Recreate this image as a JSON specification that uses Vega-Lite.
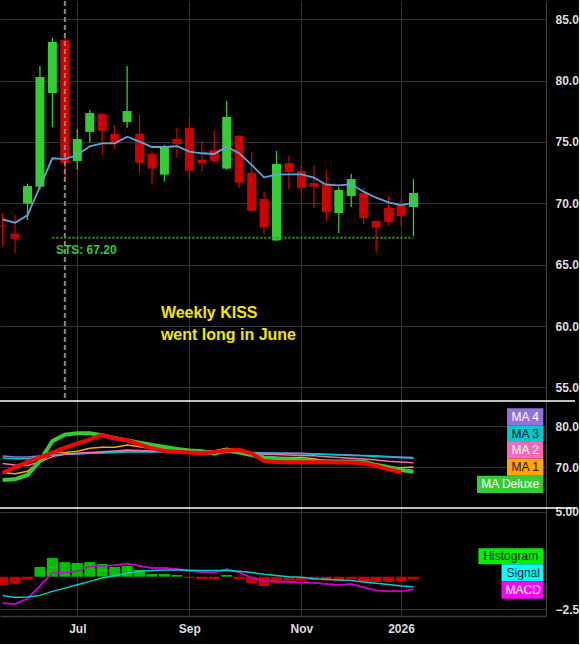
{
  "$schema": "https://vega.github.io/schema/vega-lite/v6.json",
  "background": "#000000",
  "padding": {"left": -6, "top": 0, "right": 0, "bottom": 10},
  "bounds": "flush",
  "spacing": 0,
  "config": {
    "view": {"stroke": null},
    "scale": {"continuousPadding": 0},
    "axis": {"labelFont": "Liberation Sans", "labelFontSize": 12, "labelFontWeight": "bold", "labelColor": "#dddddd", "gridColor": "#333333", "gridWidth": 1, "domainColor": "#444444", "ticks": false, "labelOverlap": false, "labelBound": false},
    "text": {"font": "Liberation Sans"}
  },
  "datasets": {
    "candles": [
      {"date": "2025-05-19", "open": 68.2, "high": 69.2, "low": 66.5, "close": 68.1, "ma": 68.7},
      {"date": "2025-05-26", "open": 67.53, "high": 69.05, "low": 65.98, "close": 67.12, "ma": 68.42},
      {"date": "2025-06-02", "open": 69.97, "high": 71.6, "low": 68.64, "close": 71.41, "ma": 69.02},
      {"date": "2025-06-09", "open": 71.36, "high": 81.2, "low": 71.14, "close": 80.3, "ma": 71.36},
      {"date": "2025-06-16", "open": 78.99, "high": 83.48, "low": 76.22, "close": 83.15, "ma": 73.67},
      {"date": "2025-06-23", "open": 83.32, "high": 83.64, "low": 71.96, "close": 73.29, "ma": 73.61},
      {"date": "2025-06-30", "open": 73.45, "high": 76.06, "low": 72.72, "close": 75.24, "ma": 73.94},
      {"date": "2025-07-07", "open": 75.82, "high": 77.61, "low": 74.95, "close": 77.36, "ma": 74.65},
      {"date": "2025-07-14", "open": 77.28, "high": 77.36, "low": 73.97, "close": 75.92, "ma": 74.89},
      {"date": "2025-07-21", "open": 75.65, "high": 76.39, "low": 74.43, "close": 74.86, "ma": 74.89},
      {"date": "2025-07-28", "open": 76.63, "high": 81.2, "low": 76.17, "close": 77.53, "ma": 75.43},
      {"date": "2025-08-04", "open": 75.65, "high": 77.2, "low": 72.42, "close": 73.29, "ma": 75.03},
      {"date": "2025-08-11", "open": 74.02, "high": 74.27, "low": 71.52, "close": 72.83, "ma": 74.59},
      {"date": "2025-08-18", "open": 72.34, "high": 74.76, "low": 71.77, "close": 74.67, "ma": 74.59},
      {"date": "2025-08-25", "open": 75.24, "high": 76.14, "low": 73.8, "close": 74.84, "ma": 74.65},
      {"date": "2025-09-01", "open": 76.14, "high": 77.04, "low": 71.93, "close": 72.66, "ma": 74.21},
      {"date": "2025-09-08", "open": 73.53, "high": 75.08, "low": 72.58, "close": 73.29, "ma": 74.08},
      {"date": "2025-09-15", "open": 74.35, "high": 75.9, "low": 73.32, "close": 73.45, "ma": 74.02},
      {"date": "2025-09-22", "open": 72.83, "high": 78.34, "low": 72.74, "close": 77.04, "ma": 74.62},
      {"date": "2025-09-29", "open": 75.49, "high": 75.57, "low": 71.28, "close": 71.68, "ma": 74.08},
      {"date": "2025-10-06", "open": 72.5, "high": 74.18, "low": 69.32, "close": 69.4, "ma": 73.13},
      {"date": "2025-10-13", "open": 70.35, "high": 70.92, "low": 67.47, "close": 68.02, "ma": 72.12},
      {"date": "2025-10-20", "open": 66.98, "high": 74.27, "low": 66.93, "close": 73.21, "ma": 72.34},
      {"date": "2025-10-27", "open": 73.29, "high": 73.86, "low": 71.11, "close": 72.55, "ma": 72.36},
      {"date": "2025-11-03", "open": 72.63, "high": 73.29, "low": 70.1, "close": 71.24, "ma": 72.36},
      {"date": "2025-11-10", "open": 71.66, "high": 73.13, "low": 69.65, "close": 71.36, "ma": 72.09},
      {"date": "2025-11-17", "open": 71.63, "high": 72.72, "low": 68.56, "close": 69.29, "ma": 71.52},
      {"date": "2025-11-24", "open": 69.21, "high": 71.33, "low": 67.58, "close": 71.09, "ma": 71.47},
      {"date": "2025-12-01", "open": 70.6, "high": 72.39, "low": 69.7, "close": 71.98, "ma": 71.55},
      {"date": "2025-12-08", "open": 70.84, "high": 71.24, "low": 68.32, "close": 68.8, "ma": 70.95},
      {"date": "2025-12-15", "open": 68.56, "high": 68.62, "low": 65.98, "close": 68.02, "ma": 70.46},
      {"date": "2025-12-22", "open": 69.62, "high": 70.6, "low": 68.15, "close": 68.48, "ma": 70.08},
      {"date": "2025-12-29", "open": 69.86, "high": 70.35, "low": 68.15, "close": 68.97, "ma": 69.86},
      {"date": "2026-01-05", "open": 69.7, "high": 71.98, "low": 67.34, "close": 70.84, "ma": 70.05}
    ],
    "mas": [
      {"date": "2025-05-19", "deluxe": 66.9, "red": 68.7, "ma1": 68.7, "ma2": 70.9, "ma3": 72.28, "ma4": 72.76},
      {"date": "2025-05-26", "deluxe": 67.07, "red": 70.0, "ma1": 68.42, "ma2": 70.57, "ma3": 72.1, "ma4": 72.5},
      {"date": "2025-06-02", "deluxe": 68.13, "red": 71.3, "ma1": 69.02, "ma2": 70.45, "ma3": 72.1, "ma4": 72.5},
      {"date": "2025-06-09", "deluxe": 71.54, "red": 72.36, "ma1": 71.36, "ma2": 71.3, "ma3": 72.5, "ma4": 72.76},
      {"date": "2025-06-16", "deluxe": 76.42, "red": 73.58, "ma1": 73.67, "ma2": 72.6, "ma3": 72.93, "ma4": 73.0},
      {"date": "2025-06-23", "deluxe": 77.97, "red": 74.8, "ma1": 73.61, "ma2": 73.2, "ma3": 73.17, "ma4": 73.17},
      {"date": "2025-06-30", "deluxe": 78.29, "red": 75.85, "ma1": 73.94, "ma2": 73.4, "ma3": 73.3, "ma4": 73.33},
      {"date": "2025-07-07", "deluxe": 78.29, "red": 76.83, "ma1": 74.65, "ma2": 73.6, "ma3": 73.4, "ma4": 73.45},
      {"date": "2025-07-14", "deluxe": 77.8, "red": 77.89, "ma1": 74.89, "ma2": 73.8, "ma3": 73.5, "ma4": 73.58},
      {"date": "2025-07-21", "deluxe": 77.15, "red": 77.07, "ma1": 74.89, "ma2": 74.0, "ma3": 73.6, "ma4": 73.7},
      {"date": "2025-07-28", "deluxe": 76.59, "red": 76.59, "ma1": 75.43, "ma2": 74.2, "ma3": 73.74, "ma4": 73.9},
      {"date": "2025-08-04", "deluxe": 76.02, "red": 75.6, "ma1": 75.03, "ma2": 74.1, "ma3": 73.75, "ma4": 73.9},
      {"date": "2025-08-11", "deluxe": 75.45, "red": 74.63, "ma1": 74.59, "ma2": 74.0, "ma3": 73.75, "ma4": 73.9},
      {"date": "2025-08-18", "deluxe": 74.96, "red": 73.98, "ma1": 74.59, "ma2": 74.0, "ma3": 73.75, "ma4": 73.85},
      {"date": "2025-08-25", "deluxe": 74.47, "red": 73.82, "ma1": 74.65, "ma2": 73.9, "ma3": 73.7, "ma4": 73.8},
      {"date": "2025-09-01", "deluxe": 74.07, "red": 73.58, "ma1": 74.21, "ma2": 73.8, "ma3": 73.7, "ma4": 73.8},
      {"date": "2025-09-08", "deluxe": 73.9, "red": 73.41, "ma1": 74.08, "ma2": 73.7, "ma3": 73.65, "ma4": 73.75},
      {"date": "2025-09-15", "deluxe": 73.3, "red": 73.74, "ma1": 74.02, "ma2": 73.6, "ma3": 73.6, "ma4": 73.7},
      {"date": "2025-09-22", "deluxe": 74.15, "red": 74.07, "ma1": 74.62, "ma2": 73.7, "ma3": 73.65, "ma4": 73.75},
      {"date": "2025-09-29", "deluxe": 73.58, "red": 74.23, "ma1": 74.08, "ma2": 73.6, "ma3": 73.6, "ma4": 73.7},
      {"date": "2025-10-06", "deluxe": 73.0, "red": 73.41, "ma1": 73.13, "ma2": 73.4, "ma3": 73.5, "ma4": 73.6},
      {"date": "2025-10-13", "deluxe": 72.4, "red": 71.5, "ma1": 72.12, "ma2": 73.2, "ma3": 73.4, "ma4": 73.55},
      {"date": "2025-10-20", "deluxe": 72.2, "red": 71.3, "ma1": 72.34, "ma2": 73.1, "ma3": 73.4, "ma4": 73.5},
      {"date": "2025-10-27", "deluxe": 71.95, "red": 71.2, "ma1": 72.36, "ma2": 73.0, "ma3": 73.35, "ma4": 73.5},
      {"date": "2025-11-03", "deluxe": 71.7, "red": 71.2, "ma1": 72.36, "ma2": 72.9, "ma3": 73.3, "ma4": 73.4},
      {"date": "2025-11-10", "deluxe": 71.5, "red": 71.2, "ma1": 72.09, "ma2": 72.8, "ma3": 73.2, "ma4": 73.3},
      {"date": "2025-11-17", "deluxe": 71.45, "red": 71.2, "ma1": 71.52, "ma2": 72.6, "ma3": 73.1, "ma4": 73.2},
      {"date": "2025-11-24", "deluxe": 71.4, "red": 71.15, "ma1": 71.47, "ma2": 72.4, "ma3": 73.0, "ma4": 73.1},
      {"date": "2025-12-01", "deluxe": 71.4, "red": 71.15, "ma1": 71.55, "ma2": 72.2, "ma3": 72.9, "ma4": 73.0},
      {"date": "2025-12-08", "deluxe": 71.35, "red": 71.0, "ma1": 70.95, "ma2": 72.0, "ma3": 72.8, "ma4": 72.9},
      {"date": "2025-12-15", "deluxe": 70.6, "red": 70.3, "ma1": 70.46, "ma2": 71.8, "ma3": 72.6, "ma4": 72.8},
      {"date": "2025-12-22", "deluxe": 70.0, "red": 69.5, "ma1": 70.08, "ma2": 71.5, "ma3": 72.5, "ma4": 72.65},
      {"date": "2025-12-29", "deluxe": 69.35, "red": 68.8, "ma1": 69.86, "ma2": 71.3, "ma3": 72.35, "ma4": 72.5},
      {"date": "2026-01-05", "deluxe": 68.9, "red": null, "ma1": 70.05, "ma2": 71.1, "ma3": 72.2, "ma4": 72.4}
    ],
    "macd": [
      {"date": "2025-05-19", "hist": -0.64, "macd": -2.05, "signal": -1.45},
      {"date": "2025-05-26", "hist": -0.54, "macd": -2.1, "signal": -1.6},
      {"date": "2025-06-02", "hist": -0.18, "macd": -1.69, "signal": -1.57},
      {"date": "2025-06-09", "hist": 0.75, "macd": -0.71, "signal": -1.44},
      {"date": "2025-06-16", "hist": 1.44, "macd": 0.29, "signal": -1.13},
      {"date": "2025-06-23", "hist": 1.13, "macd": 0.32, "signal": -0.88},
      {"date": "2025-06-30", "hist": 1.06, "macd": 0.42, "signal": -0.62},
      {"date": "2025-07-07", "hist": 1.13, "macd": 0.78, "signal": -0.36},
      {"date": "2025-07-14", "hist": 0.98, "macd": 0.83, "signal": -0.1},
      {"date": "2025-07-21", "hist": 0.75, "macd": 0.88, "signal": 0.08},
      {"date": "2025-07-28", "hist": 0.83, "macd": 1.01, "signal": 0.26},
      {"date": "2025-08-04", "hist": 0.52, "macd": 0.83, "signal": 0.42},
      {"date": "2025-08-11", "hist": 0.21, "macd": 0.67, "signal": 0.47},
      {"date": "2025-08-18", "hist": 0.21, "macd": 0.67, "signal": 0.52},
      {"date": "2025-08-25", "hist": 0.13, "macd": 0.6, "signal": 0.52},
      {"date": "2025-09-01", "hist": -0.1, "macd": 0.44, "signal": 0.5},
      {"date": "2025-09-08", "hist": -0.18, "macd": 0.37, "signal": 0.47},
      {"date": "2025-09-15", "hist": -0.18, "macd": 0.32, "signal": 0.47},
      {"date": "2025-09-22", "hist": 0.13, "macd": 0.57, "signal": 0.47},
      {"date": "2025-09-29", "hist": -0.18, "macd": 0.32, "signal": 0.42},
      {"date": "2025-10-06", "hist": -0.49, "macd": -0.08, "signal": 0.32},
      {"date": "2025-10-13", "hist": -0.72, "macd": -0.33, "signal": 0.19},
      {"date": "2025-10-20", "hist": -0.46, "macd": -0.36, "signal": 0.1},
      {"date": "2025-10-27", "hist": -0.31, "macd": -0.39, "signal": 0.0},
      {"date": "2025-11-03", "hist": -0.31, "macd": -0.46, "signal": -0.05},
      {"date": "2025-11-10", "hist": -0.25, "macd": -0.46, "signal": -0.15},
      {"date": "2025-11-17", "hist": -0.3, "macd": -0.57, "signal": -0.2},
      {"date": "2025-11-24", "hist": -0.35, "macd": -0.64, "signal": -0.25},
      {"date": "2025-12-01", "hist": -0.2, "macd": -0.57, "signal": -0.3},
      {"date": "2025-12-08", "hist": -0.4, "macd": -0.82, "signal": -0.4},
      {"date": "2025-12-15", "hist": -0.4, "macd": -1.07, "signal": -0.5},
      {"date": "2025-12-22", "hist": -0.4, "macd": -1.13, "signal": -0.6},
      {"date": "2025-12-29", "hist": -0.35, "macd": -1.13, "signal": -0.72},
      {"date": "2026-01-05", "hist": -0.2, "macd": -0.97, "signal": -0.78}
    ]
  },
  "vconcat": [
    {
      "width": 546,
      "height": 400,
      "layer": [
        {
          "data": {"name": "candles"},
          "mark": {"type": "rule", "strokeWidth": 1.3, "clip": true},
          "encoding": {
            "x": {"field": "date", "type": "temporal", "title": null,
              "scale": {"type": "utc", "nice": false, "padding": 0, "domain": [{"year": 2025, "month": 5, "date": 17, "hours": 13, "utc": true}, {"year": 2026, "month": 3, "date": 20, "hours": 12, "utc": true}]},
              "axis": {"orient": "bottom", "values": [{"year": 2025, "month": 6, "date": 30, "utc": true}, {"year": 2025, "month": 9, "date": 1, "utc": true}, {"year": 2025, "month": 11, "date": 3, "utc": true}, {"year": 2025, "month": 12, "date": 29, "utc": true}], "labels": false, "domain": false, "grid": true}},
            "y": {"field": "low", "type": "quantitative", "title": null,
              "scale": {"domain": [53.89, 86.49], "nice": false, "zero": false},
              "axis": {"orient": "right", "values": [55, 57.5, 60, 62.5, 65, 67.5, 70, 72.5, 75, 77.5, 80, 82.5, 85], "format": ".1f", "grid": true, "domain": true, "labelPadding": 9}},
            "y2": {"field": "high"},
            "color": {"condition": {"test": "datum.close >= datum.open", "value": "#33cc33"}, "value": "#cc0000"}
          }
        },
        {
          "data": {"name": "candles"},
          "mark": {"type": "bar", "size": 9, "clip": true},
          "encoding": {
            "x": {"field": "date", "type": "temporal", "title": null},
            "y": {"field": "open", "type": "quantitative", "title": null},
            "y2": {"field": "close"},
            "color": {"condition": {"test": "datum.close >= datum.open", "value": "#33cc33"}, "value": "#cc0000"}
          }
        },
        {
          "data": {"name": "candles"},
          "mark": {"type": "line", "color": "#5aa5e0", "strokeWidth": 1.8, "clip": true},
          "encoding": {
            "x": {"field": "date", "type": "temporal", "title": null},
            "y": {"field": "ma", "type": "quantitative", "title": null}
          }
        },
        {
          "data": {"values": [{}]},
          "mark": {"type": "rule", "color": "#888888", "strokeWidth": 2, "strokeDash": [5, 3]},
          "encoding": {"x": {"datum": {"year": 2025, "month": 6, "date": 23, "utc": true}}}
        },
        {
          "data": {"values": [{}]},
          "mark": {"type": "rule", "color": "#2ca02c", "strokeWidth": 2, "strokeDash": [2, 2]},
          "encoding": {
            "x": {"datum": {"year": 2025, "month": 6, "date": 16, "utc": true}},
            "x2": {"datum": {"year": 2026, "month": 1, "date": 5, "utc": true}},
            "y": {"datum": 67.2}
          }
        },
        {
          "data": {"values": [{"label": "STS: 67.20"}]},
          "mark": {"type": "text", "color": "#33cc33", "fontSize": 12, "fontWeight": "bold", "align": "left", "baseline": "middle"},
          "encoding": {
            "x": {"datum": {"year": 2025, "month": 6, "date": 18, "utc": true}},
            "y": {"datum": 66.2},
            "text": {"field": "label"}
          }
        },
        {
          "data": {"values": [{}]},
          "mark": {"type": "text", "text": ["Weekly KISS", "went long in June"], "color": "#f5e600", "fontSize": 16, "fontWeight": "bold", "align": "left", "baseline": "alphabetic", "lineHeight": 22.6},
          "encoding": {
            "x": {"datum": {"year": 2025, "month": 8, "date": 16, "utc": true}},
            "y": {"datum": 60.68}
          }
        }
      ]
    },
    {
      "width": 546,
      "height": 107,
      "layer": [
        {
          "data": {"name": "mas"},
          "mark": {"type": "line", "color": "#9370db", "strokeWidth": 1.5},
          "encoding": {
            "x": {"field": "date", "type": "temporal", "title": null,
              "scale": {"type": "utc", "nice": false, "padding": 0, "domain": [{"year": 2025, "month": 5, "date": 17, "hours": 13, "utc": true}, {"year": 2026, "month": 3, "date": 20, "hours": 12, "utc": true}]},
              "axis": {"orient": "bottom", "values": [{"year": 2025, "month": 6, "date": 30, "utc": true}, {"year": 2025, "month": 9, "date": 1, "utc": true}, {"year": 2025, "month": 11, "date": 3, "utc": true}, {"year": 2025, "month": 12, "date": 29, "utc": true}], "labels": false, "domain": false, "grid": true}},
            "y": {"field": "ma4", "type": "quantitative", "title": null,
              "scale": {"domain": [60.07, 86.17], "nice": false, "zero": false},
              "axis": {"orient": "right", "values": [70, 80], "format": ".1f", "grid": true, "domain": true, "labelPadding": 9}}
          }
        },
        {
          "data": {"name": "mas"},
          "mark": {"type": "line", "color": "#00c8cc", "strokeWidth": 1.5},
          "encoding": {"x": {"field": "date", "type": "temporal", "title": null}, "y": {"field": "ma3", "type": "quantitative", "title": null}}
        },
        {
          "data": {"name": "mas"},
          "mark": {"type": "line", "color": "#ff69b4", "strokeWidth": 1.5},
          "encoding": {"x": {"field": "date", "type": "temporal", "title": null}, "y": {"field": "ma2", "type": "quantitative", "title": null}}
        },
        {
          "data": {"name": "mas"},
          "mark": {"type": "line", "color": "#ffa500", "strokeWidth": 1.5},
          "encoding": {"x": {"field": "date", "type": "temporal", "title": null}, "y": {"field": "ma1", "type": "quantitative", "title": null}}
        },
        {
          "data": {"name": "mas"},
          "mark": {"type": "line", "color": "#33cc33", "strokeWidth": 4},
          "encoding": {"x": {"field": "date", "type": "temporal", "title": null}, "y": {"field": "deluxe", "type": "quantitative", "title": null}}
        },
        {
          "data": {"name": "mas"},
          "mark": {"type": "line", "color": "#ff0000", "strokeWidth": 4},
          "encoding": {"x": {"field": "date", "type": "temporal", "title": null}, "y": {"field": "red", "type": "quantitative", "title": null}}
        },
        {
          "data": {"values": [{}]},
          "mark": {"type": "rule", "color": "#ffffff", "strokeWidth": 1.5},
          "encoding": {
            "x": {"datum": {"year": 2025, "month": 5, "date": 17, "hours": 13, "utc": true}},
            "x2": {"datum": {"year": 2026, "month": 4, "date": 5, "hours": 19, "utc": true}},
            "y": {"datum": 86.17}
          }
        },
        {
          "data": {"values": [{"t": "MA 4"}]},
          "layer": [
            {"mark": {"type": "rect", "color": "#9370db"}, "encoding": {"x": {"datum": {"year": 2026, "month": 2, "date": 26, "hours": 14, "utc": true}}, "x2": {"datum": {"year": 2026, "month": 3, "date": 19, "utc": true}}, "y": {"datum": 84.39}, "y2": {"datum": 80.24}}},
            {"mark": {"type": "text", "color": "#ffffff", "fontSize": 12, "baseline": "middle"}, "encoding": {"x": {"datum": {"year": 2026, "month": 3, "date": 8, "hours": 19, "utc": true}}, "y": {"datum": 82.32}, "text": {"field": "t"}}}
          ]
        },
        {
          "data": {"values": [{"t": "MA 3"}]},
          "layer": [
            {"mark": {"type": "rect", "color": "#00c8cc"}, "encoding": {"x": {"datum": {"year": 2026, "month": 2, "date": 26, "hours": 14, "utc": true}}, "x2": {"datum": {"year": 2026, "month": 3, "date": 19, "utc": true}}, "y": {"datum": 80.24}, "y2": {"datum": 76.17}}},
            {"mark": {"type": "text", "color": "#111111", "fontSize": 12, "baseline": "middle"}, "encoding": {"x": {"datum": {"year": 2026, "month": 3, "date": 8, "hours": 19, "utc": true}}, "y": {"datum": 78.21}, "text": {"field": "t"}}}
          ]
        },
        {
          "data": {"values": [{"t": "MA 2"}]},
          "layer": [
            {"mark": {"type": "rect", "color": "#ff69b4"}, "encoding": {"x": {"datum": {"year": 2026, "month": 2, "date": 26, "hours": 14, "utc": true}}, "x2": {"datum": {"year": 2026, "month": 3, "date": 19, "utc": true}}, "y": {"datum": 76.17}, "y2": {"datum": 72.1}}},
            {"mark": {"type": "text", "color": "#ffffff", "fontSize": 12, "baseline": "middle"}, "encoding": {"x": {"datum": {"year": 2026, "month": 3, "date": 8, "hours": 19, "utc": true}}, "y": {"datum": 74.13}, "text": {"field": "t"}}}
          ]
        },
        {
          "data": {"values": [{"t": "MA 1"}]},
          "layer": [
            {"mark": {"type": "rect", "color": "#ffa500"}, "encoding": {"x": {"datum": {"year": 2026, "month": 2, "date": 26, "hours": 14, "utc": true}}, "x2": {"datum": {"year": 2026, "month": 3, "date": 19, "utc": true}}, "y": {"datum": 72.1}, "y2": {"datum": 67.95}}},
            {"mark": {"type": "text", "color": "#111111", "fontSize": 12, "baseline": "middle"}, "encoding": {"x": {"datum": {"year": 2026, "month": 3, "date": 8, "hours": 19, "utc": true}}, "y": {"datum": 70.02}, "text": {"field": "t"}}}
          ]
        },
        {
          "data": {"values": [{"t": "MA Deluxe"}]},
          "layer": [
            {"mark": {"type": "rect", "color": "#33cc33"}, "encoding": {"x": {"datum": {"year": 2026, "month": 2, "date": 9, "hours": 17, "utc": true}}, "x2": {"datum": {"year": 2026, "month": 3, "date": 19, "utc": true}}, "y": {"datum": 67.95}, "y2": {"datum": 63.73}}},
            {"mark": {"type": "text", "color": "#ffffff", "fontSize": 12, "baseline": "middle"}, "encoding": {"x": {"datum": {"year": 2026, "month": 2, "date": 28, "hours": 10, "utc": true}}, "y": {"datum": 65.84}, "text": {"field": "t"}}}
          ]
        }
      ]
    },
    {
      "width": 546,
      "height": 108,
      "layer": [
        {
          "data": {"name": "macd"},
          "mark": {"type": "line", "color": "#cc00cc", "strokeWidth": 1.5},
          "encoding": {
            "x": {"field": "date", "type": "temporal", "title": null,
              "scale": {"type": "utc", "nice": false, "padding": 0, "domain": [{"year": 2025, "month": 5, "date": 17, "hours": 13, "utc": true}, {"year": 2026, "month": 3, "date": 20, "hours": 12, "utc": true}]},
              "axis": {"orient": "bottom", "values": [{"year": 2025, "month": 6, "date": 30, "utc": true}, {"year": 2025, "month": 9, "date": 1, "utc": true}, {"year": 2025, "month": 11, "date": 3, "utc": true}, {"year": 2025, "month": 12, "date": 29, "utc": true}], "labelExpr": "utcFormat(datum.value + 259200000, '%m') == '01' ? utcFormat(datum.value + 259200000, '%Y') : utcFormat(datum.value + 259200000, '%b')", "grid": true, "domain": true, "domainColor": "#3a3a4a", "domainWidth": 1.5, "labelPadding": 7}},
            "y": {"field": "macd", "type": "quantitative", "title": null,
              "scale": {"domain": [-3.03, 5.3], "nice": false, "zero": false},
              "axis": {"orient": "right", "values": [-2.5, 0, 2.5, 5], "labelExpr": "datum.value >= 4 ? '5.00' : datum.value >= 2 ? '2.50' : datum.value >= -1 ? '0.00' : '\u22122.5'", "labelOverlap": false, "grid": true, "domain": true, "labelPadding": 9}}
          }
        },
        {
          "data": {"name": "macd"},
          "mark": {"type": "bar", "size": 11, "clip": true},
          "encoding": {
            "x": {"field": "date", "type": "temporal", "title": null},
            "y": {"field": "hist", "type": "quantitative", "title": null},
            "y2": {"datum": 0},
            "color": {"condition": {"test": "datum.hist >= 0", "value": "#00c000"}, "value": "#cc0000"}
          }
        },
        {
          "data": {"name": "macd"},
          "mark": {"type": "line", "color": "#cc00cc", "strokeWidth": 1.5},
          "encoding": {"x": {"field": "date", "type": "temporal", "title": null}, "y": {"field": "macd", "type": "quantitative", "title": null}}
        },
        {
          "data": {"name": "macd"},
          "mark": {"type": "line", "color": "#00d0d0", "strokeWidth": 1.5},
          "encoding": {"x": {"field": "date", "type": "temporal", "title": null}, "y": {"field": "signal", "type": "quantitative", "title": null}}
        },
        {
          "data": {"values": [{}]},
          "mark": {"type": "rule", "color": "#ffffff", "strokeWidth": 1.5},
          "encoding": {
            "x": {"datum": {"year": 2025, "month": 5, "date": 17, "hours": 13, "utc": true}},
            "x2": {"datum": {"year": 2026, "month": 4, "date": 5, "hours": 19, "utc": true}},
            "y": {"datum": 5.3}
          }
        },
        {
          "data": {"values": [{"t": "Histogram"}]},
          "layer": [
            {"mark": {"type": "rect", "color": "#00ee00"}, "encoding": {"x": {"datum": {"year": 2026, "month": 2, "date": 10, "hours": 12, "utc": true}}, "x2": {"datum": {"year": 2026, "month": 3, "date": 19, "utc": true}}, "y": {"datum": 2.19}, "y2": {"datum": 0.957}}},
            {"mark": {"type": "text", "color": "#111111", "fontSize": 12, "baseline": "middle"}, "encoding": {"x": {"datum": {"year": 2026, "month": 2, "date": 28, "hours": 17, "utc": true}}, "y": {"datum": 1.57}, "text": {"field": "t"}}}
          ]
        },
        {
          "data": {"values": [{"t": "Signal"}]},
          "layer": [
            {"mark": {"type": "rect", "color": "#00ffff"}, "encoding": {"x": {"datum": {"year": 2026, "month": 2, "date": 23, "hours": 12, "utc": true}}, "x2": {"datum": {"year": 2026, "month": 3, "date": 19, "utc": true}}, "y": {"datum": 0.957}, "y2": {"datum": -0.355}}},
            {"mark": {"type": "text", "color": "#111111", "fontSize": 12, "baseline": "middle"}, "encoding": {"x": {"datum": {"year": 2026, "month": 3, "date": 7, "hours": 17, "utc": true}}, "y": {"datum": 0.3}, "text": {"field": "t"}}}
          ]
        },
        {
          "data": {"values": [{"t": "MACD"}]},
          "layer": [
            {"mark": {"type": "rect", "color": "#ff00ff"}, "encoding": {"x": {"datum": {"year": 2026, "month": 2, "date": 23, "hours": 12, "utc": true}}, "x2": {"datum": {"year": 2026, "month": 3, "date": 19, "utc": true}}, "y": {"datum": -0.355}, "y2": {"datum": -1.7}}},
            {"mark": {"type": "text", "color": "#ffffff", "fontSize": 12, "baseline": "middle"}, "encoding": {"x": {"datum": {"year": 2026, "month": 3, "date": 7, "hours": 17, "utc": true}}, "y": {"datum": -1.03}, "text": {"field": "t"}}}
          ]
        }
      ]
    }
  ]
}
